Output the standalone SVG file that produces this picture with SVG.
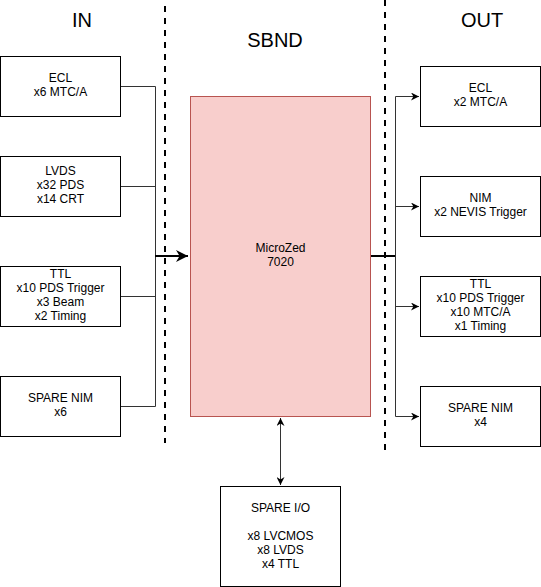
<svg xmlns="http://www.w3.org/2000/svg" width="541" height="587" viewBox="0 0 541 587">
<style>
.box{fill:#fff;stroke:#000;stroke-width:1}
.mz{fill:#f8cecc;stroke:#b85450;stroke-width:1}
.t{font-family:"Liberation Sans",Arial,sans-serif;font-size:12px;fill:#000;text-anchor:middle}
.h{font-family:"Liberation Sans",Arial,sans-serif;font-size:20px;fill:#000;text-anchor:middle}
.ln{fill:none;stroke:#333;stroke-width:1}
.bold{fill:none;stroke:#000;stroke-width:2}
.dash{fill:none;stroke:#000;stroke-width:2;stroke-dasharray:6 6}
</style>
<defs>
<marker id="ah" viewBox="0 0 10 10" refX="10" refY="5" markerWidth="8" markerHeight="8" markerUnits="userSpaceOnUse" orient="auto-start-reverse">
<path d="M0,0 L10,5 L0,10 L3,5 Z" fill="#000"/>
</marker>
<marker id="ahb" viewBox="0 0 10 10" refX="10" refY="5" markerWidth="6" markerHeight="6" orient="auto">
<path d="M0,0 L10,5 L0,10 L3,5 Z" fill="#000"/>
</marker>
</defs>
<rect width="541" height="587" fill="#fff"/>
<g id="titles">
<text class="h" x="82" y="27">IN</text>
<text class="h" x="275" y="47">SBND</text>
<text class="h" x="482" y="27">OUT</text>
</g>
<g id="separators">
<line class="dash" x1="165" y1="6" x2="165" y2="443"/>
<line class="dash" x1="385" y1="0" x2="385" y2="451"/>
</g>
<g id="connectors">
<path class="ln" d="M120.5,86.5 H155.5 V406.5 H120.5"/>
<path class="ln" d="M120.5,186.5 H155.5"/>
<path class="ln" d="M120.5,296.5 H155.5"/>
<path class="bold" d="M155,256 H188" marker-end="url(#ahb)"/>
<path class="bold" d="M370,256 H395"/>
<path class="ln" d="M395.5,96.5 V416.5"/>
<path class="ln" d="M395.5,96.5 H419" marker-end="url(#ah)"/>
<path class="ln" d="M395.5,206.5 H419" marker-end="url(#ah)"/>
<path class="ln" d="M395.5,306.5 H419" marker-end="url(#ah)"/>
<path class="ln" d="M395.5,416.5 H419" marker-end="url(#ah)"/>
<path class="ln" d="M280.5,418 V485" marker-start="url(#ah)" marker-end="url(#ah)"/>
</g>
<g id="in-ecl">
<rect class="box" x="0.5" y="56.5" width="120" height="60"/>
<text class="t" x="60.5" y="82">ECL</text>
<text class="t" x="60.5" y="96">x6 MTC/A</text>
</g>
<g id="in-lvds">
<rect class="box" x="0.5" y="156.5" width="120" height="60"/>
<text class="t" x="60.5" y="175">LVDS</text>
<text class="t" x="60.5" y="189">x32 PDS</text>
<text class="t" x="60.5" y="203">x14 CRT</text>
</g>
<g id="in-ttl">
<rect class="box" x="0.5" y="266.5" width="120" height="60"/>
<text class="t" x="60.5" y="278">TTL</text>
<text class="t" x="60.5" y="292">x10 PDS Trigger</text>
<text class="t" x="60.5" y="306">x3 Beam</text>
<text class="t" x="60.5" y="320">x2 Timing</text>
</g>
<g id="in-spare-nim">
<rect class="box" x="0.5" y="376.5" width="120" height="60"/>
<text class="t" x="60.5" y="402">SPARE NIM</text>
<text class="t" x="60.5" y="416">x6</text>
</g>
<g id="microzed">
<rect class="mz" x="190.5" y="96.5" width="180" height="320"/>
<text class="t" x="280.5" y="252">MicroZed</text>
<text class="t" x="280.5" y="266">7020</text>
</g>
<g id="out-ecl">
<rect class="box" x="420.5" y="66.5" width="120" height="60"/>
<text class="t" x="480.5" y="92">ECL</text>
<text class="t" x="480.5" y="106">x2 MTC/A</text>
</g>
<g id="out-nim">
<rect class="box" x="420.5" y="176.5" width="120" height="60"/>
<text class="t" x="480.5" y="202">NIM</text>
<text class="t" x="480.5" y="216">x2 NEVIS Trigger</text>
</g>
<g id="out-ttl">
<rect class="box" x="420.5" y="276.5" width="120" height="60"/>
<text class="t" x="480.5" y="288">TTL</text>
<text class="t" x="480.5" y="302">x10 PDS Trigger</text>
<text class="t" x="480.5" y="316">x10 MTC/A</text>
<text class="t" x="480.5" y="330">x1 Timing</text>
</g>
<g id="out-spare-nim">
<rect class="box" x="420.5" y="386.5" width="120" height="60"/>
<text class="t" x="480.5" y="412">SPARE NIM</text>
<text class="t" x="480.5" y="426">x4</text>
</g>
<g id="spare-io">
<rect class="box" x="220.5" y="486.5" width="120" height="100"/>
<text class="t" x="280.5" y="512">SPARE I/O</text>
<text class="t" x="280.5" y="540">x8 LVCMOS</text>
<text class="t" x="280.5" y="554">x8 LVDS</text>
<text class="t" x="280.5" y="568">x4 TTL</text>
</g>
</svg>
